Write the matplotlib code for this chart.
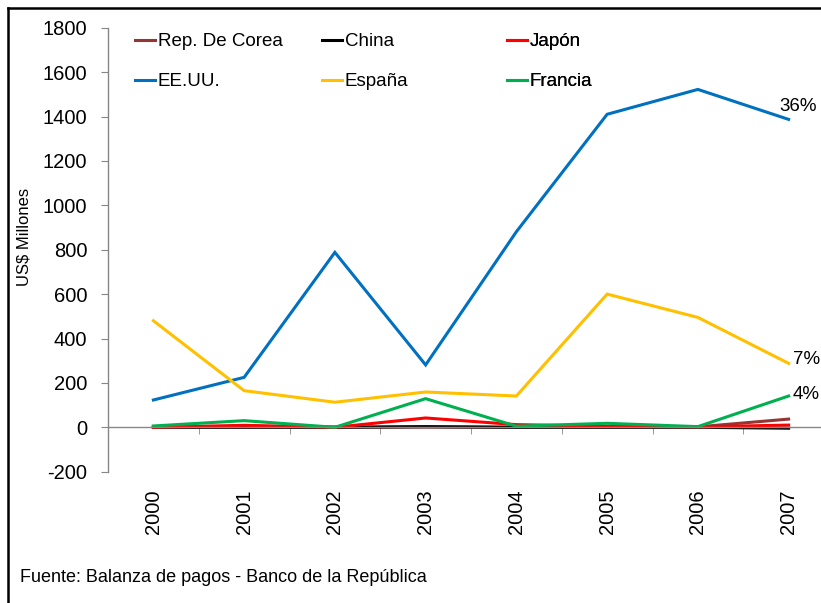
import numpy as np
import matplotlib
matplotlib.use('Agg')
import matplotlib.pyplot as plt
from matplotlib.lines import Line2D

plt.rcParams['font.family'] = ['Liberation Sans', 'DejaVu Sans']
plt.rcParams['axes.unicode_minus'] = False

years = ['2000', '2001', '2002', '2003', '2004', '2005', '2006', '2007']
corea = [1, 1, 0, 1, 0, 1, 2, 37]
china = [0, 0, 0, 3, 0, 0, 0, -4]
japon = [0, 9, 0, 42, 12, 5, 2, 10]
eeuu = [123, 225, 788, 281, 881, 1410, 1522, 1387]
espana = [480, 165, 113, 159, 141, 600, 495, 288]
francia = [6, 30, 0, 129, 5, 18, 3, 141]

W, H = 821, 603
fig = plt.figure(figsize=(W / 100, H / 100), dpi=100)
ax = fig.add_axes([108 / W, (H - 471.7) / H, 726 / W, 444 / H])

x = np.arange(len(years))
series = [
    ('Rep. De Corea', corea, '#943634'),
    ('China', china, '#000000'),
    ('Japón', japon, '#FF0000'),
    ('EE.UU.', eeuu, '#0070C0'),
    ('España', espana, '#FFC000'),
    ('Francia', francia, '#00B050'),
]
handles = {}
# draw small ones last so they sit on top like the original
for name, vals, col in [series[3], series[4], series[0], series[1], series[2], series[5]]:
    ln, = ax.plot(x, vals, color=col, lw=2.2, solid_joinstyle='miter')
    handles[name] = ln

ax.set_xlim(-0.5, 7.5)
ax.set_ylim(-200, 1800)
ax.set_yticks(np.arange(-200, 1801, 200))

gray = '#868686'
for s in ['top', 'right']:
    ax.spines[s].set_visible(False)
ax.spines['left'].set_color(gray)
ax.spines['bottom'].set_color(gray)
ax.spines['bottom'].set_position(('data', 0))
ax.spines['left'].set_linewidth(1)
ax.spines['bottom'].set_linewidth(1)

fs = 14.5
ax.set_xticks(x)
ax.set_xticklabels(years, rotation=90, fontsize=fs, va='top')
ax.set_xticks(np.arange(0.5, 7.5, 1), minor=True)
ax.tick_params(axis='x', which='major', length=0, pad=45)
ax.tick_params(axis='x', which='minor', length=5, color=gray, direction='out')
ax.tick_params(axis='y', length=5, color=gray, labelsize=fs, pad=10)

ax.set_ylabel('US$ Millones', fontsize=12)
ax.yaxis.set_label_coords(31 / W, 1 - 237 / H, transform=fig.transFigure)

# share labels at the last point
fs2 = 13.5
ax.annotate('36%', (7, eeuu[-1]), xytext=(-7, 3), textcoords='offset points',
            fontsize=fs2, ha='left', va='bottom')
ax.annotate('7%', (7, espana[-1]), xytext=(3, 3), textcoords='offset points',
            fontsize=fs2, ha='left', va='center')
ax.annotate('4%', (7, francia[-1]), xytext=(3, 1), textcoords='offset points',
            fontsize=fs2, ha='left', va='center')

# legend in three fixed columns
cols = [(['Rep. De Corea', 'EE.UU.'], 135), (['China', 'España'], 322), (['Japón', 'Francia'], 507)]
for names, xpx in cols:
    leg = ax.legend([handles[n] for n in names], names, loc='upper left',
                    bbox_to_anchor=(xpx / W, 1 - 33 / H), bbox_transform=fig.transFigure,
                    frameon=False, fontsize=fs2, handlelength=1.05, handletextpad=0.15,
                    labelspacing=1.22, borderpad=0, borderaxespad=0)
    ax.add_artist(leg)

fig.text(20 / W, 1 - 578 / H, 'Fuente: Balanza de pagos - Banco de la República',
         fontsize=13, va='center', ha='left')

# black frame of the cropped picture
fig.add_artist(Line2D([8 / W, 8 / W], [0, 1 - 8 / H], color='black', lw=1.8,
                      transform=fig.transFigure))
fig.add_artist(Line2D([8 / W, 1], [1 - 8 / H, 1 - 8 / H], color='black', lw=1.8,
                      transform=fig.transFigure))

fig.savefig('out.png', dpi=100)
